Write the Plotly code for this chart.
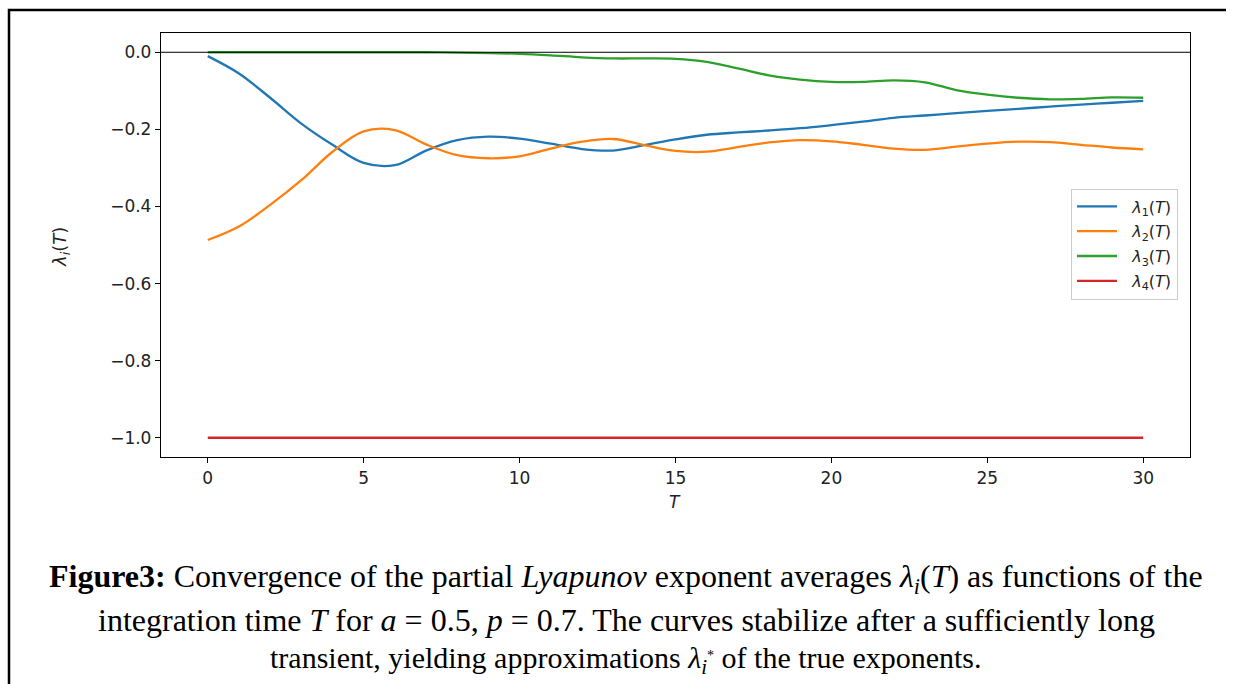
import plotly.graph_objects as go

# ---------------- data ----------------
T = list(range(0, 31))
lam1 = [-0.010, -0.055, -0.118, -0.185, -0.240, -0.287, -0.293, -0.255, -0.228, -0.219, -0.224,
        -0.237, -0.251, -0.255, -0.241, -0.226, -0.214, -0.208, -0.203, -0.197, -0.189,
        -0.180, -0.170, -0.164, -0.158, -0.152, -0.147, -0.141, -0.136, -0.131, -0.126]
lam2 = [-0.487, -0.452, -0.396, -0.332, -0.258, -0.205, -0.202, -0.239, -0.267, -0.275, -0.270,
        -0.250, -0.232, -0.225, -0.241, -0.256, -0.258, -0.246, -0.234, -0.228, -0.231,
        -0.240, -0.250, -0.253, -0.245, -0.237, -0.232, -0.233, -0.240, -0.247, -0.252]
lam3 = [0.000, 0.000, 0.000, 0.000, 0.000, 0.000, 0.000, 0.000, -0.001, -0.002, -0.004,
        -0.008, -0.013, -0.016, -0.016, -0.017, -0.025, -0.042, -0.060, -0.071, -0.077,
        -0.077, -0.073, -0.078, -0.098, -0.110, -0.118, -0.122, -0.121, -0.117, -0.118]
lam4 = [-1.0] * 31

names = ["<i>λ</i><sub>1</sub>(<i>T</i>)", "<i>λ</i><sub>2</sub>(<i>T</i>)",
         "<i>λ</i><sub>3</sub>(<i>T</i>)", "<i>λ</i><sub>4</sub>(<i>T</i>)"]
colors = ["#1f77b4", "#ff7f0e", "#2ca02c", "#d62728"]

xticks = [0, 5, 10, 15, 20, 25, 30]
yticks = [0.0, -0.2, -0.4, -0.6, -0.8, -1.0]

caption_lines = [
    "<b>Figure3:</b> Convergence of the partial <i>Lyapunov</i> exponent averages <i>λ<sub>i</sub></i>(<i>T</i>) as functions of the",
    "integration time <i>T</i> for <i>a</i> = 0.5, <i>p</i> = 0.7. The curves stabilize after a sufficiently long",
    "transient, yielding approximations <i>λ<sub>i</sub></i><span style='font-size:20px'><sup>*</sup></span> of the true exponents.",
]
caption_sizes = [32, 32, 30]

# ---------------- layout geometry (pixels) ----------------
W, H = 1236, 684
L, R, TOP, B = 161, 1190, 33, 457


def fx(x):
    return x / W


def fy(y):
    return 1 - y / H


fig = go.Figure()
for k, (ly, nm, c) in enumerate(zip([lam1, lam2, lam3, lam4], names, colors)):
    fig.add_trace(go.Scatter(x=T, y=ly, mode="lines", name="\u00a0\u00a0" + nm, legendgroup=f"g{k}",
                             line=dict(color=c, width=2.3, shape="spline", smoothing=1.0)))

# outer frame (left and top edges) on a full-figure overlay axis in pixel units
fig.add_trace(go.Scatter(x=[9, 9, 1226], y=[H, 10, 10], mode="lines", xaxis="x2", yaxis="y2",
                         line=dict(color="black", width=2.5), showlegend=False, hoverinfo="skip"))

axis_common = dict(showgrid=False, zeroline=False, showline=True, linecolor="black", linewidth=1.3,
                   mirror=True, ticks="outside", ticklen=5, tickwidth=1.2, tickcolor="black",
                   tickfont=dict(family="DejaVu Sans", size=17, color="#222"))

fig.update_layout(
    width=W, height=H,
    margin=dict(l=0, r=0, t=0, b=0),
    paper_bgcolor="white", plot_bgcolor="rgba(0,0,0,0)",
    xaxis=dict(domain=[fx(L), fx(R)], range=[-1.5, 31.5], tickvals=xticks,
               ticktext=[str(v) for v in xticks], anchor="y", **axis_common),
    yaxis=dict(domain=[fy(B), fy(TOP)], range=[-1.05, 0.05], tickvals=yticks, tickformat=".1f",
               anchor="x", **axis_common),
    xaxis2=dict(domain=[0, 1], range=[0, W], visible=False, anchor="y2", fixedrange=True),
    yaxis2=dict(domain=[0, 1], range=[H, 0], visible=False, anchor="x2", fixedrange=True),
    legend=dict(x=fx(1178), y=fy(244), xanchor="right", yanchor="middle",
                bgcolor="white", bordercolor="#cccccc", borderwidth=1,
                font=dict(family="DejaVu Sans", size=16, color="#222"),
                tracegroupgap=1, itemwidth=40),
    showlegend=True,
)

# axhline at 0
fig.add_shape(type="line", xref="x domain", yref="y", x0=0, x1=1, y0=0, y1=0,
              line=dict(color="black", width=1))

# axis titles
fig.add_annotation(text="<i>T</i>", xref="paper", yref="paper", x=fx(675), y=fy(502),
                   xanchor="center", yanchor="middle",
                   showarrow=False, font=dict(family="DejaVu Sans", size=17, color="#222"))
fig.add_annotation(text="<i>λ</i><sub><i>i</i></sub>(<i>T</i>)", xref="paper", yref="paper", x=fx(61), y=fy(247),
                   xanchor="center", yanchor="middle",
                   showarrow=False, textangle=-90, font=dict(family="DejaVu Sans", size=18, color="#222"))

# caption
for line, yc, fs in zip(caption_lines, [578, 620, 660], caption_sizes):
    fig.add_annotation(text=line, xref="paper", yref="paper", x=fx(626), y=fy(yc),
                       xanchor="center", yanchor="middle", showarrow=False,
                       font=dict(family="Liberation Serif", size=fs, color="black"))

fig.write_html("out.html")
